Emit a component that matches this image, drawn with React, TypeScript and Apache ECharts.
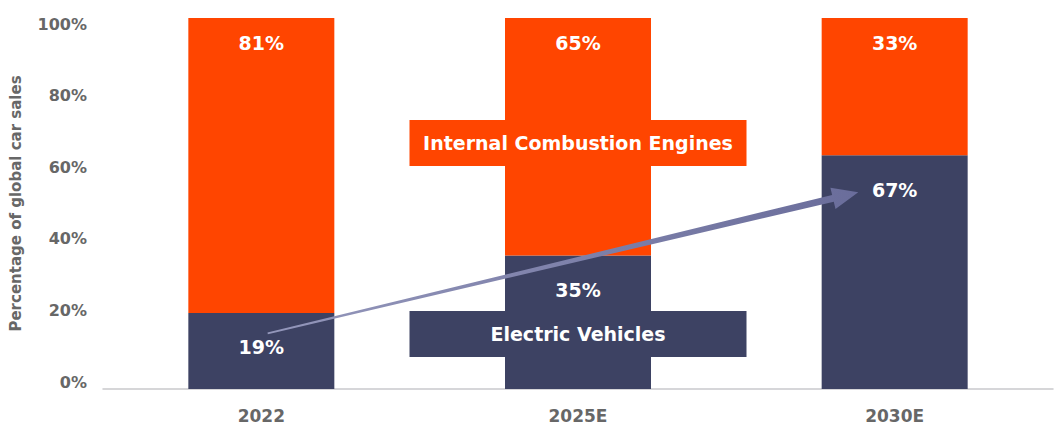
import React, { useEffect, useRef } from "react";
import * as echarts from "echarts";

// ---- data ----
const categories = ["2022", "2025E", "2030E"];
// bar heights as drawn (percent of axis)
const evShare = [20.5, 36, 63];
const iceShare = [79.5, 64, 37];
// labels as printed on the bars
const evLabels = ["19%", "35%", "67%"];
const iceLabels = ["81%", "65%", "33%"];
const yTickValues = [0, 20, 40, 60, 80, 100];
// arrow annotation: [category index (fractional), percent]
const arrowStart = [0.02, 15];
const arrowEnd = [1.885, 53];
// callout boxes anchored on a category / value
const calloutNames = ["Internal Combustion Engines", "Electric Vehicles"];
const calloutValues = [66.3, 14.8];
const calloutCategory = "2025E";

const FONT = "DejaVu Sans";
const ORANGE = "#FF4500";
const NAVY = "#3D4263";
const GRAY = "#676767";

export default function App() {
  const ref = useRef<HTMLDivElement>(null);

  useEffect(() => {
    document.body.style.margin = "0";
    if (!ref.current) return;
    const chart = echarts.init(ref.current, null, { renderer: "svg" });

    const labelStyle = {
      show: true,
      color: "#ffffff",
      fontFamily: FONT,
      fontWeight: "bold" as const,
      fontSize: 19,
    };

    const option: any = {
      animation: false,
      backgroundColor: "#ffffff",
      grid: { left: 103, right: 8, top: 18, bottom: 35, containLabel: false },
      xAxis: {
        type: "category",
        data: categories,
        axisLine: { show: true, lineStyle: { color: "#c9c9cc", width: 1.5 } },
        axisTick: { show: false },
        axisLabel: {
          color: GRAY,
          fontFamily: FONT,
          fontWeight: "bold",
          fontSize: 17,
          margin: 18,
        },
        splitLine: { show: false },
      },
      yAxis: [
        {
          type: "value",
          min: 0,
          max: 100,
          show: false,
        },
        {
          type: "value",
          position: "left",
          min: -1.955,
          max: 101.676,
          axisLine: { show: false },
          axisTick: { show: false },
          splitLine: { show: false },
          axisLabel: {
            customValues: yTickValues,
            formatter: (v: number) => `${Math.round(v)}%`,
            color: GRAY,
            fontFamily: FONT,
            fontWeight: "bold",
            fontSize: 16,
            margin: 16,
          },
          name: "Percentage of global car sales",
          nameLocation: "middle",
          nameRotate: 90,
          nameGap: 80,
          nameTextStyle: {
            color: GRAY,
            fontFamily: FONT,
            fontWeight: "bold",
            fontSize: 15,
          },
        },
      ],
      series: [
        {
          name: "Electric Vehicles",
          type: "bar",
          stack: "share",
          yAxisIndex: 0,
          barWidth: 146,
          itemStyle: { color: NAVY },
          data: evShare.map((v, i) => ({ value: v, labelText: evLabels[i] })),
          label: {
            ...labelStyle,
            position: "insideTop",
            distance: 25,
            formatter: (p: any) => evLabels[p.dataIndex],
          },
          markPoint: {
            symbol: "rect",
            symbolSize: [337, 46],
            silent: true,
            label: {
              ...labelStyle,
              position: "inside",
              formatter: (p: any) => p.name,
            },
            data: calloutNames.map((n, i) => ({
              name: n,
              coord: [calloutCategory, calloutValues[i]],
              itemStyle: { color: i === 0 ? ORANGE : NAVY },
            })),
          },
        },
        {
          name: "Internal Combustion Engines",
          type: "bar",
          stack: "share",
          yAxisIndex: 0,
          barWidth: 146,
          itemStyle: { color: ORANGE },
          data: iceShare,
          label: {
            ...labelStyle,
            position: "insideTop",
            distance: 15,
            formatter: (p: any) => iceLabels[p.dataIndex],
          },
        },
        {
          name: "trend",
          type: "custom",
          yAxisIndex: 0,
          silent: true,
          clip: false,
          z: 5,
          data: [[0, 0]],
          renderItem: (_params: any, api: any) => {
            const band = api.size([1, 0])[0];
            const pt = (p: number[]) => {
              const i = Math.floor(p[0]);
              const c = api.coord([i, p[1]]);
              return [c[0] + (p[0] - i) * band, c[1]];
            };
            const a = pt(arrowStart);
            const b = pt(arrowEnd);
            const dx = b[0] - a[0];
            const dy = b[1] - a[1];
            const len = Math.hypot(dx, dy);
            const ux = dx / len;
            const uy = dy / len;
            const nx = -uy;
            const ny = ux;
            const headLen = 26;
            const headW = 11;
            const s0 = 0.8;
            const s1 = 3.5;
            const bx = b[0] - ux * headLen;
            const by = b[1] - uy * headLen;
            const points = [
              [a[0] + nx * s0, a[1] + ny * s0],
              [bx + nx * s1, by + ny * s1],
              [bx + nx * headW, by + ny * headW],
              b,
              [bx - nx * headW, by - ny * headW],
              [bx - nx * s1, by - ny * s1],
              [a[0] - nx * s0, a[1] - ny * s0],
            ];
            return {
              type: "polygon",
              shape: { points },
              style: {
                fill: new echarts.graphic.LinearGradient(
                  a[0],
                  a[1],
                  b[0],
                  b[1],
                  [
                    { offset: 0, color: "#9497bb" },
                    { offset: 1, color: "#6a6d9b" },
                  ],
                  true
                ),
              },
            };
          },
        },
      ],
    };

    chart.setOption(option);
    return () => chart.dispose();
  }, []);

  return <div ref={ref} style={{ width: 1061, height: 424 }} />;
}
